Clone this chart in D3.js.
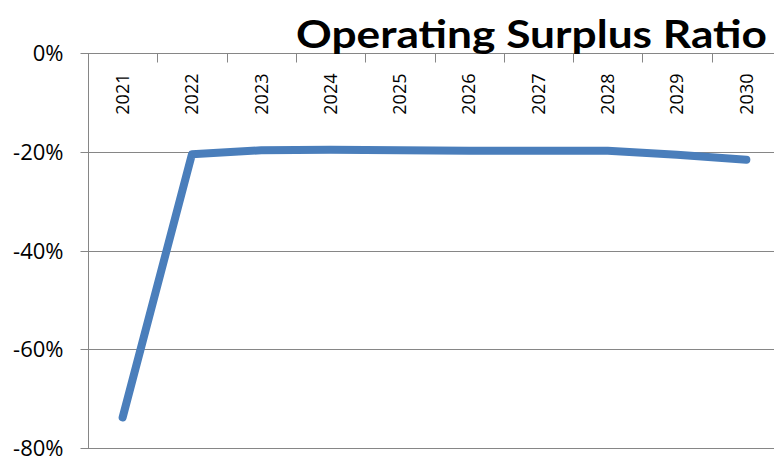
<!DOCTYPE html>
<html>
<head>
<meta charset="utf-8">
<script src="https://cdn.jsdelivr.net/npm/d3@7"></script>
<style>
  html, body { margin: 0; padding: 0; background: #fff; }
  svg { display: block; }
</style>
</head>
<body>
<div id="chart"></div>
<script>
const YEARS = ['2021', '2022', '2023', '2024', '2025', '2026', '2027', '2028', '2029', '2030'];
const RATIO = [-0.738, -0.205, -0.197, -0.196, -0.197, -0.198, -0.198, -0.198, -0.206, -0.216];
const Y_TICKS = [0, -0.2, -0.4, -0.6, -0.8];
const TITLE = 'Operating Surplus Ratio';

const WIDTH = 774;
const HEIGHT = 457;
const LINE_COLOUR = '#4a7ebb';
const GRID_COLOUR = '#868686';
const LABEL_FONT = '"Open Sans", sans-serif';
const TITLE_FONT = 'Lato, "Open Sans", sans-serif';

const svg = d3.select('#chart').append('svg')
  .attr('width', WIDTH)
  .attr('height', HEIGHT);

// plot area runs past the right edge, the reference is cropped there
const plot = {left: 88, right: 781, top: 53, bottom: 448};

const x = d3.scaleBand()
  .domain(YEARS)
  .range([plot.left, plot.right])
  .padding(0);

const y = d3.scaleLinear()
  .domain([-0.8, 0])
  .range([plot.bottom, plot.top]);

// horizontal gridlines
svg.append('g')
  .selectAll('line')
  .data(Y_TICKS)
  .join('line')
    .attr('x1', plot.left)
    .attr('x2', WIDTH)
    .attr('y1', d => Math.round(y(d)) + 0.5)
    .attr('y2', d => Math.round(y(d)) + 0.5)
    .attr('stroke', GRID_COLOUR)
    .attr('stroke-width', 1);

// y axis
const yAxis = svg.append('g')
  .attr('transform', `translate(${plot.left + 0.5},0)`)
  .call(d3.axisLeft(y)
    .tickValues(Y_TICKS)
    .tickSize(8)
    .tickPadding(17)
    .tickFormat(d => `${Math.round(d * 100)}%`));

yAxis.select('.domain')
  .attr('stroke', GRID_COLOUR)
  .attr('d', `M0,${plot.top}V${plot.bottom + 1}`);
yAxis.selectAll('.tick line').attr('stroke', GRID_COLOUR);
yAxis.selectAll('.tick').attr('transform', d => `translate(0,${Math.round(y(d)) + 0.5})`);
yAxis.selectAll('.tick text')
  .attr('font-family', LABEL_FONT)
  .attr('font-size', 22)
  .attr('fill', '#000')
  .attr('dy', '0.35em');

// category axis sits on the 0% line, ticks pointing down at band edges
const xAxis = svg.append('g')
  .attr('transform', `translate(0,${Math.round(y(0)) + 0.5})`);

xAxis.selectAll('line')
  .data(YEARS)
  .join('line')
    .attr('x1', d => Math.round(x(d)) + 0.5)
    .attr('x2', d => Math.round(x(d)) + 0.5)
    .attr('y1', 0)
    .attr('y2', 9)
    .attr('stroke', GRID_COLOUR);

xAxis.selectAll('text')
  .data(YEARS)
  .join('text')
    .attr('transform', d => `translate(${x(d) + x.bandwidth() / 2},20) rotate(-90)`)
    .attr('text-anchor', 'end')
    .attr('dy', '0.35em')
    .attr('font-family', LABEL_FONT)
    .attr('font-size', 18)
    .attr('fill', '#000')
    .text(d => d);

// the series
const line = d3.line()
  .x((d, i) => x(YEARS[i]) + x.bandwidth() / 2)
  .y(d => y(d));

svg.append('path')
  .datum(RATIO)
  .attr('fill', 'none')
  .attr('stroke', LINE_COLOUR)
  .attr('stroke-width', 8)
  .attr('stroke-linejoin', 'round')
  .attr('stroke-linecap', 'round')
  .attr('d', line);

// title
svg.append('text')
  .attr('x', 296)
  .attr('y', 48)
  .attr('font-family', TITLE_FONT)
  .attr('font-weight', 'bold')
  .attr('font-size', 39)
  .attr('textLength', 471)
  .attr('lengthAdjust', 'spacingAndGlyphs')
  .attr('fill', '#000')
  .text(TITLE);
</script>
</body>
</html>
